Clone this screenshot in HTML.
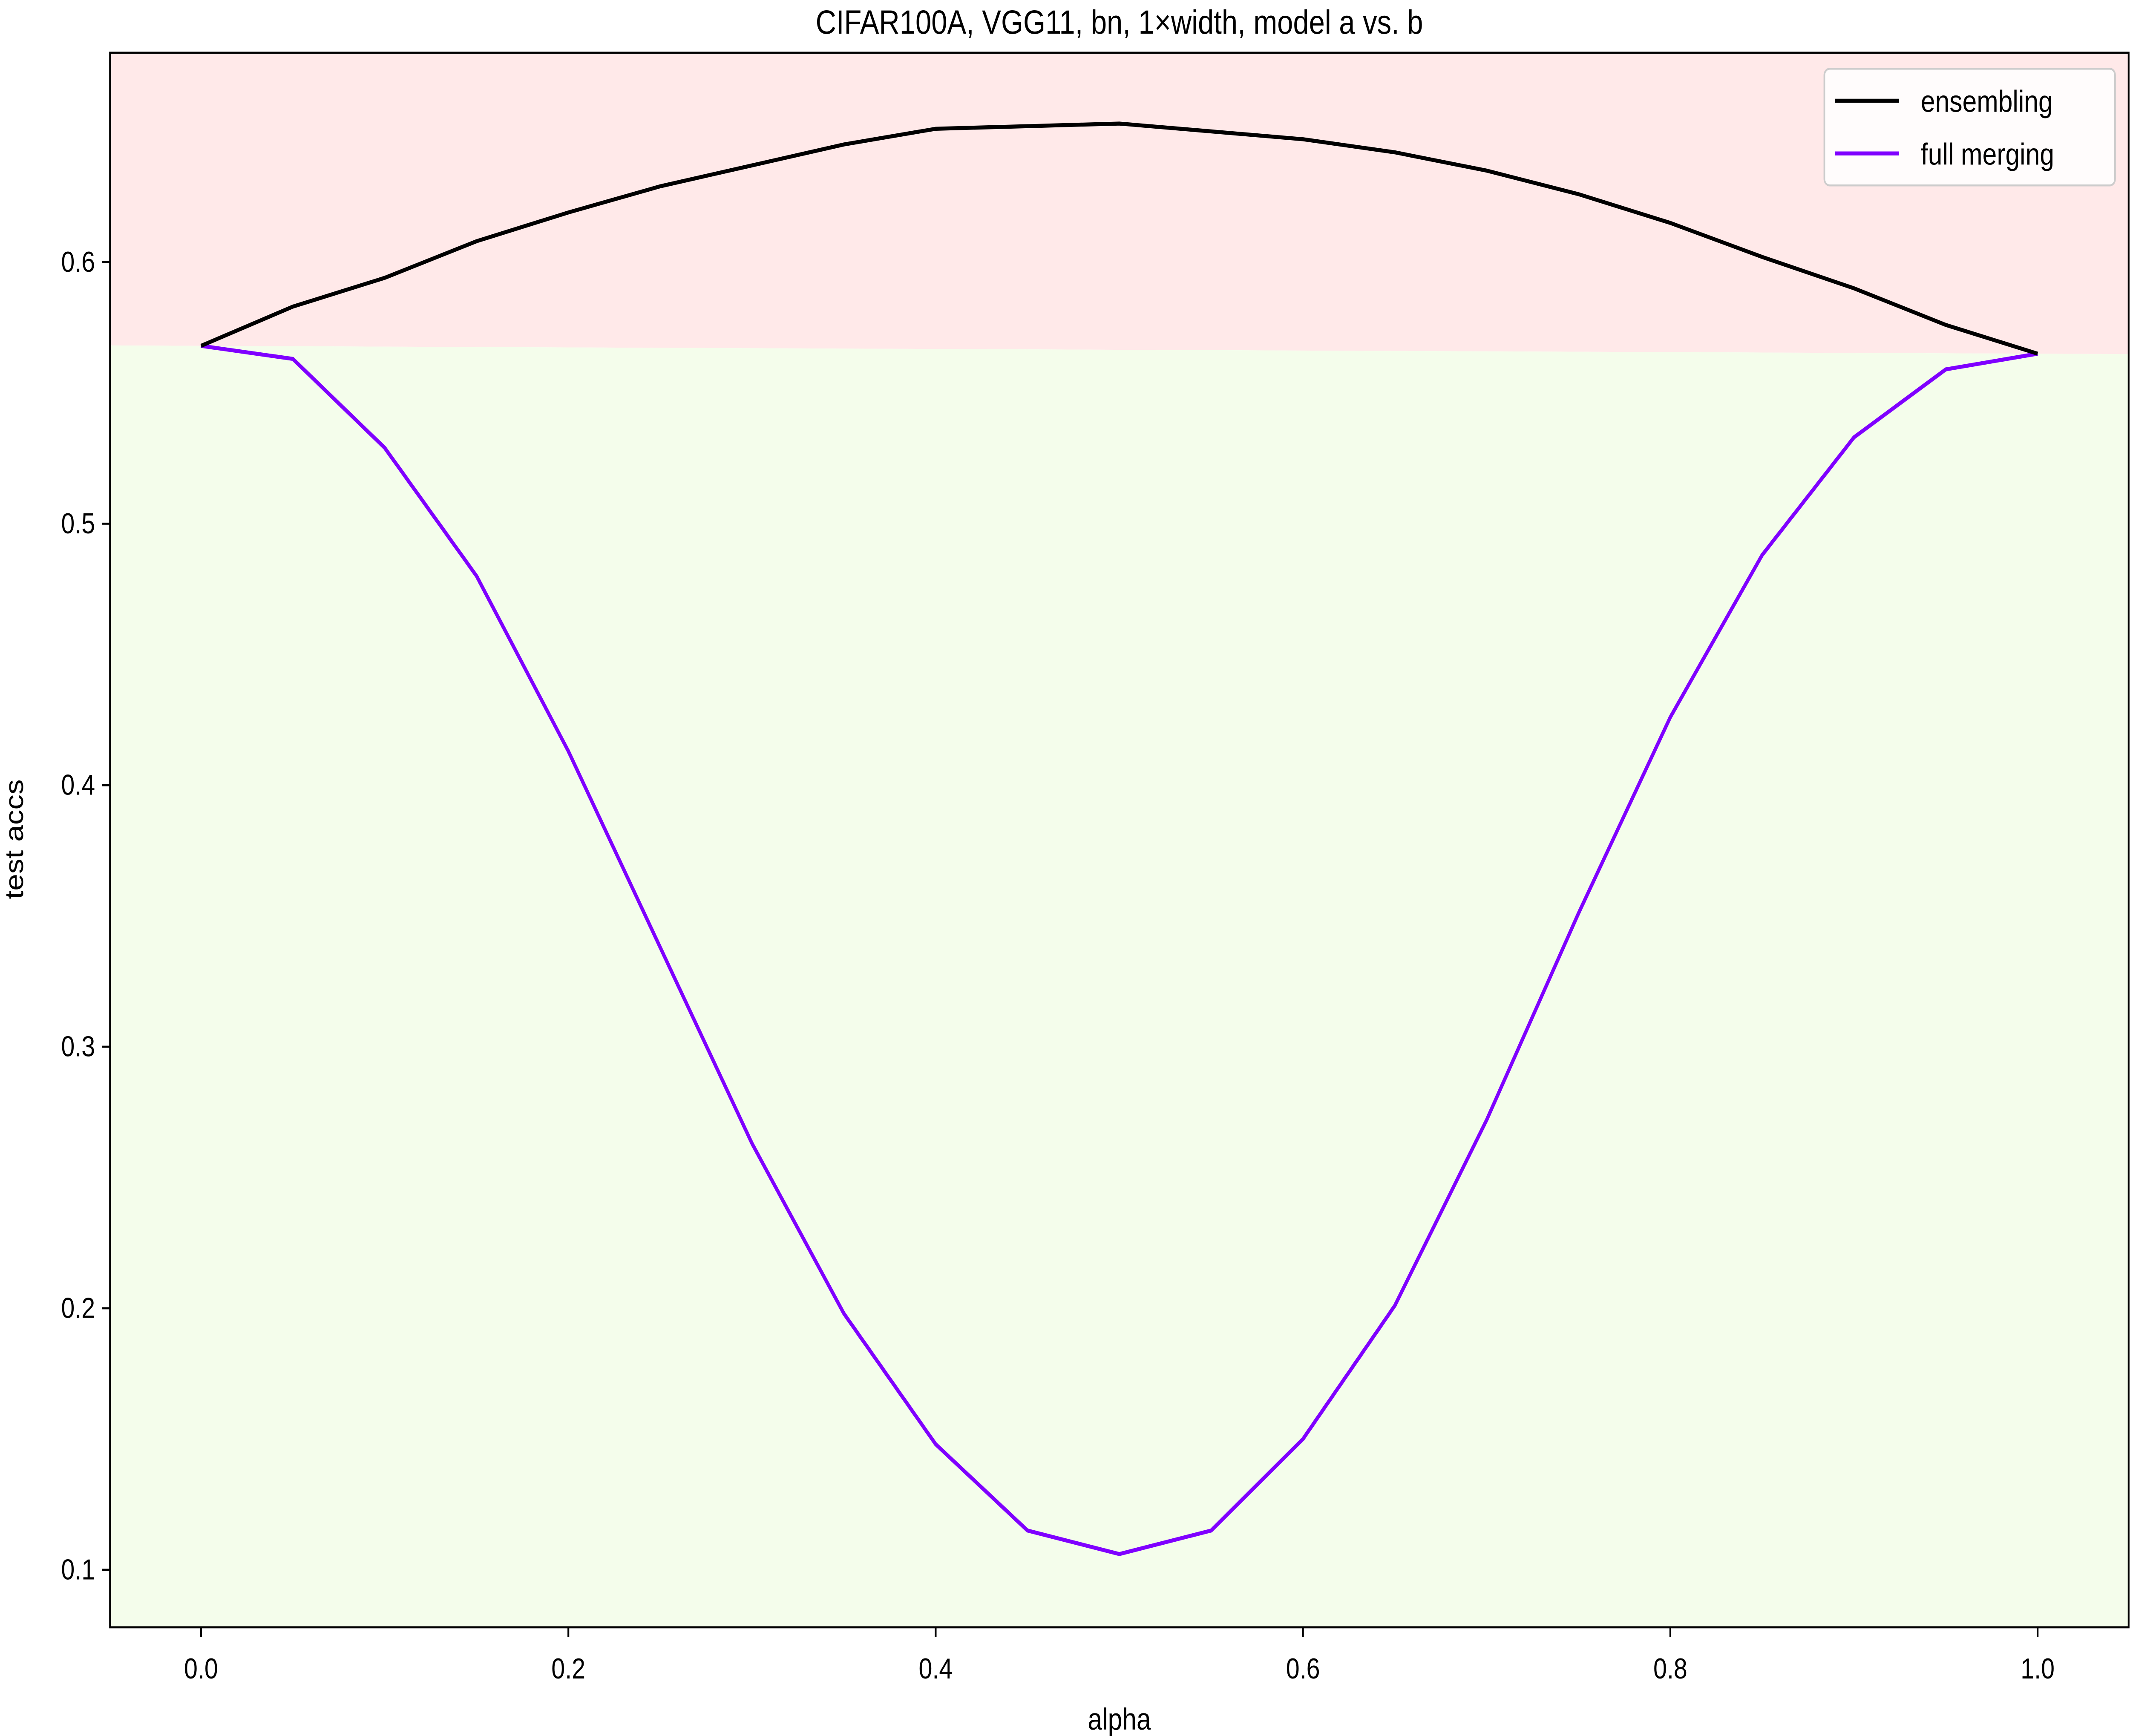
<!DOCTYPE html>
<html><head><meta charset="utf-8">
<style>
html,body{margin:0;padding:0;background:#fff;width:100%;height:100%;overflow:hidden;}
svg{display:block;width:100vw;height:100vh;font-family:"Liberation Sans","DejaVu Sans",sans-serif;}
</style></head>
<body>
<svg id="chart" viewBox="0 0 1568 1086" preserveAspectRatio="none" xmlns="http://www.w3.org/2000/svg">
<g id="bg"></g>
<g id="series"></g>
<rect x="81" y="33" width="1486" height="985" fill="none" stroke="#000" stroke-width="1.3"/>
<g id="xt"></g>
<g id="yt"></g>
<text x="824" y="21" text-anchor="middle" font-size="21">CIFAR100A, VGG11, bn, 1×width, model a vs. b</text>
<text x="824" y="1082" text-anchor="middle" font-size="19">alpha</text>
<text transform="translate(17,525) rotate(-90)" text-anchor="middle" font-size="19">test accs</text>
<g>
<rect x="1343" y="43" width="214" height="73" rx="4" fill="#fff" fill-opacity="0.85" stroke="#ccc" stroke-width="1.2"/>
<line x1="1351" y1="63" x2="1398" y2="63" stroke="#000" stroke-width="2.5"/>
<text x="1414" y="70" font-size="19">ensembling</text>
<line x1="1351" y1="96" x2="1398" y2="96" stroke="#7f00ff" stroke-width="2.5"/>
<text x="1414" y="103" font-size="19">full merging</text>
</g>
</svg>
<script>
const alphas = [0,0.05,0.1,0.15,0.2,0.25,0.3,0.35,0.4,0.45,0.5,0.55,0.6,0.65,0.7,0.75,0.8,0.85,0.9,0.95,1.0];
const ensembling = [0.568,0.583,0.594,0.608,0.619,0.629,0.637,0.645,0.651,0.652,0.653,0.650,0.647,0.642,0.635,0.626,0.615,0.602,0.590,0.576,0.565];
const fullMerging = [0.568,0.563,0.529,0.480,0.413,0.338,0.263,0.198,0.148,0.115,0.106,0.115,0.150,0.201,0.272,0.351,0.426,0.488,0.533,0.559,0.565];
const xTicks = [0,0.2,0.4,0.6,0.8,1.0];
const xTickLabels = ["0.0","0.2","0.4","0.6","0.8","1.0"];
const yTicks = [0.1,0.2,0.3,0.4,0.5,0.6];
const yTickLabels = ["0.1","0.2","0.3","0.4","0.5","0.6"];

const L=81,R=1567,T=33,B=1018;
const X = v => 148 + v*(1500-148);
const Y = v => 982 - (v-0.1)*(982-164)/0.5;
const NS="http://www.w3.org/2000/svg";
function mk(tag, parent, attrs){const e=document.createElementNS(NS,tag);for(const k in attrs)e.setAttribute(k,attrs[k]);parent.appendChild(e);return e;}

const bg=document.getElementById('bg');
const a0=alphas[0], a1=alphas[alphas.length-1];
const e0=ensembling[0], e1=ensembling[ensembling.length-1];
const slope=(e1-e0)/(a1-a0);
const vAt = px => e0 + slope*((px-148)/(1500-148) - a0);
const yl=Y(vAt(L)), yr=Y(vAt(R));
let p=mk('polygon',bg,{points:`${L},${T} ${R},${T} ${R},${yr} ${L},${yl}`,fill:'#ffe9e9'});


p=mk('polygon',bg,{points:`${L},${yl} ${R},${yr} ${R},${B} ${L},${B}`,fill:'#f4fdeb'});



const series=document.getElementById('series');
let l=mk('polyline',series,{points:alphas.map((a,i)=>X(a)+','+Y(fullMerging[i])).join(' '),fill:'none',stroke:'#7f00ff','stroke-width':2.5});


l=mk('polyline',series,{points:alphas.map((a,i)=>X(a)+','+Y(ensembling[i])).join(' '),fill:'none',stroke:'#000','stroke-width':2.5});



const xt=document.getElementById('xt');
xTicks.forEach((v,i)=>{
  const t=mk('line',xt,{x1:X(v),x2:X(v),y1:B,y2:B+6,stroke:'#000','stroke-width':1.3});
  
  
  const s=mk('text',xt,{x:X(v),y:1050,'text-anchor':'middle','font-size':18});
  
  
  s.textContent=xTickLabels[i];
});
const yt=document.getElementById('yt');
yTicks.forEach((v,i)=>{
  const t=mk('line',yt,{x1:L-6,x2:L,y1:Y(v),y2:Y(v),stroke:'#000','stroke-width':1.3});
  
  
  const s=mk('text',yt,{x:L-11,y:Y(v)+6,'text-anchor':'end','font-size':18});
  
  
  s.textContent=yTickLabels[i];
});
</script>
</body></html>
